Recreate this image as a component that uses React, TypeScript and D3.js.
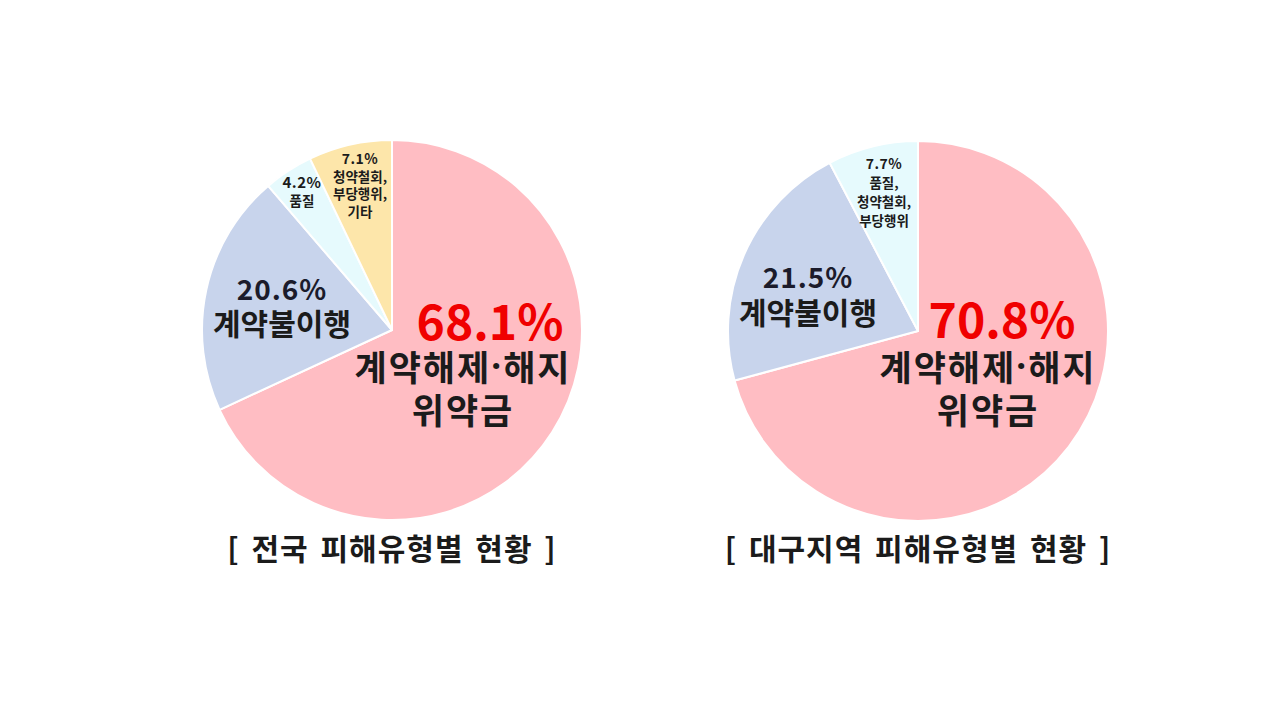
import React from 'react';
import * as d3 from 'd3';

// 전국 피해유형별 현황
const nationalCategories = [['계약해제·해지', '위약금'], ['계약불이행'], ['품질'], ['청약철회,', '부당행위,', '기타']];
const nationalValues = [68.1, 20.6, 4.2, 7.1];
const nationalColors = ['#ffbdc3', '#c8d4ec', '#e6fafd', '#fde6aa'];

// 대구지역 피해유형별 현황
const daeguCategories = [['계약해제·해지', '위약금'], ['계약불이행'], ['품질,', '청약철회,', '부당행위']];
const daeguValues = [70.8, 21.5, 7.7];
const daeguColors = ['#ffbdc3', '#c8d4ec', '#e6fafd'];

const titles = ['[ 전국 피해유형별 현황 ]', '[ 대구지역 피해유형별 현황 ]'];

const FONT = '"Noto Sans CJK KR", "Noto Sans", sans-serif';

interface LabelSpec {
  vx: number; // value text offset from center
  vy: number;
  nx: number; // name lines offset from center
  ny: number;
  gap: number;
  vSize: number;
  nSize: number;
  vColor: string;
  vSpacing: number;
  nSpacing: number;
}

const big = (vx: number, vy: number, nx: number, ny: number): LabelSpec => ({
  vx, vy, nx, ny, gap: 43, vSize: 48, nSize: 35, vColor: '#f00000', vSpacing: 0, nSpacing: 2,
});
const mid = (vx: number, vy: number, ny: number): LabelSpec => ({
  vx, vy, nx: vx, ny, gap: 34, vSize: 28, nSize: 30, vColor: '#1b1b2b', vSpacing: 1, nSpacing: 0,
});
const small = (vx: number, vy: number, gap: number): LabelSpec => ({
  vx, vy, nx: vx, ny: vy + gap, gap, vSize: 14, nSize: 13.5, vColor: '#1b1b1b', vSpacing: 0.5, nSpacing: 0,
});

const nationalLabels: LabelSpec[] = [
  big(98, -11, 71, 35),
  mid(-110, -42, -8),
  { ...small(-90, -149, 19), vSize: 15 },
  small(-32, -172, 17.5),
];
const daeguLabels: LabelSpec[] = [
  big(84, -14, 70, 34),
  mid(-110, -55, -20),
  small(-34, -168, 19),
];

// middle dot drawn with a proportional font so it stays tight like the original
const renderLine = (line: string) => {
  const parts = line.split('·');
  if (parts.length === 1) return line;
  return parts.map((p, k) => (
    <React.Fragment key={k}>
      {k > 0 && <tspan fontFamily='"Noto Sans", sans-serif'>·</tspan>}
      <tspan>{p}</tspan>
    </React.Fragment>
  ));
};

interface PieProps {
  cx: number;
  cy: number;
  r: number;
  values: number[];
  categories: string[][];
  colors: string[];
  labels: LabelSpec[];
  title: string;
  titleY: number;
}

const Pie: React.FC<PieProps> = ({ cx, cy, r, values, categories, colors, labels, title, titleY }) => {
  const arcs = d3.pie<number>().sort(null).value((d) => d)(values);
  const arc = d3.arc<d3.PieArcDatum<number>>().innerRadius(0).outerRadius(r);

  return (
    <g>
      <g transform={`translate(${cx},${cy})`}>
        {arcs.map((a, i) => (
          <path key={i} d={arc(a) || ''} fill={colors[i]} stroke="#fff" strokeWidth={2} strokeLinejoin="round" />
        ))}
        {arcs.map((a, i) => {
          const l = labels[i];
          return (
            <g key={`l${i}`} fontFamily={FONT} fontWeight={700} textAnchor="middle" dominantBaseline="central">
              <text x={l.vx} y={l.vy} fontSize={l.vSize} fill={l.vColor} letterSpacing={l.vSpacing}>
                {`${values[i]}%`}
              </text>
              {categories[i].map((line, j) => (
                <text
                  key={j}
                  x={l.nx}
                  y={l.ny + j * l.gap}
                  fontSize={l.nSize}
                  fill="#1b1b1b"
                  letterSpacing={l.nSpacing}
                >
                  {renderLine(line)}
                </text>
              ))}
            </g>
          );
        })}
      </g>
      <text
        x={cx}
        y={titleY}
        textAnchor="middle"
        dominantBaseline="central"
        fontFamily={FONT}
        fontWeight={700}
        fontSize={30}
        fill="#1b1b1b"
        style={{ wordSpacing: '4px' }}
        letterSpacing={1}
        xmlSpace="preserve"
      >
        {title}
      </text>
    </g>
  );
};

const App: React.FC = () => {
  return (
    <svg
      width={1286}
      height={728}
      style={{ position: 'absolute', left: 0, top: 0, background: '#fff' }}
    >
      <rect width={1286} height={728} fill="#fff" />
      <Pie
        cx={392}
        cy={330}
        r={190}
        values={nationalValues}
        categories={nationalCategories}
        colors={nationalColors}
        labels={nationalLabels}
        title={titles[0]}
        titleY={547}
      />
      <Pie
        cx={918}
        cy={331}
        r={190}
        values={daeguValues}
        categories={daeguCategories}
        colors={daeguColors}
        labels={daeguLabels}
        title={titles[1]}
        titleY={547}
      />
    </svg>
  );
};

export default App;
